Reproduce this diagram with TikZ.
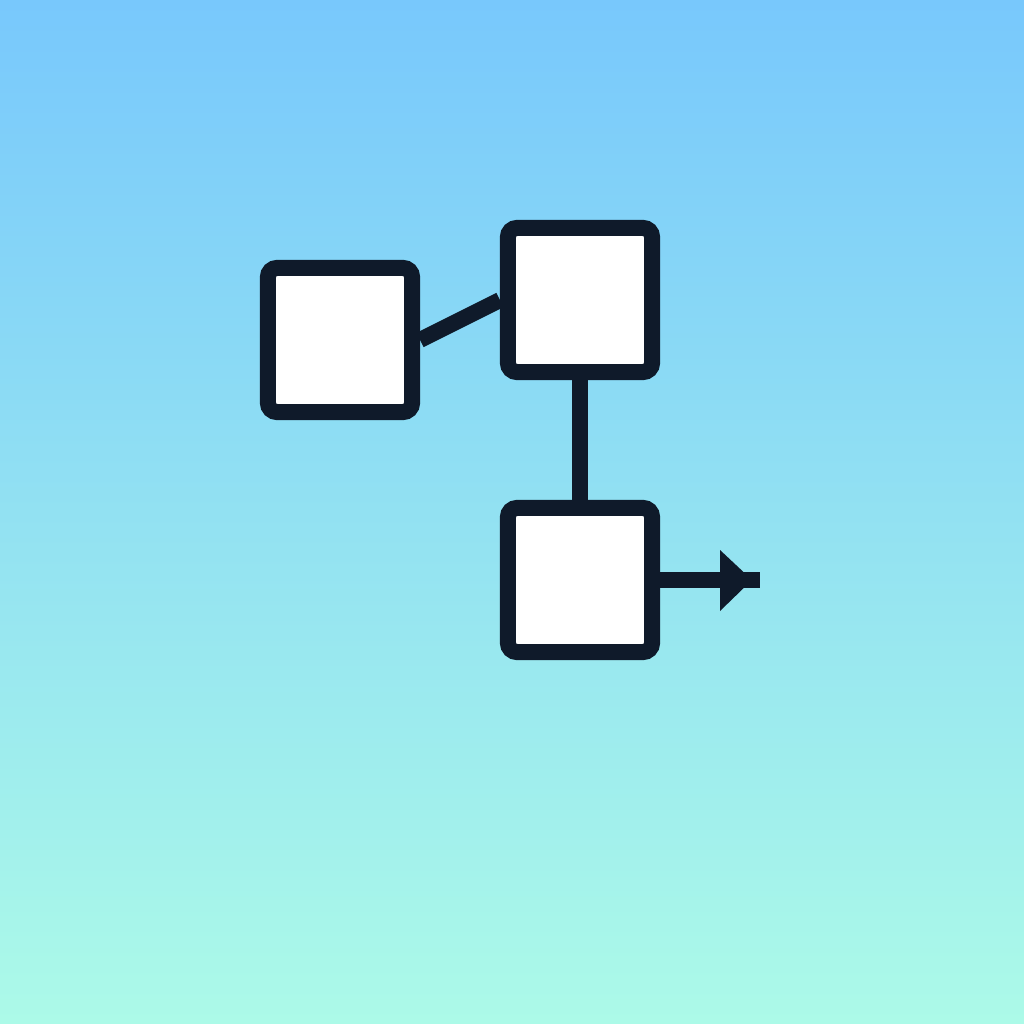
\documentclass[tikz,border=0pt]{standalone}
\definecolor{bgtop}{RGB}{120,200,252}
\definecolor{bgbot}{RGB}{172,250,232}
\definecolor{ink}{RGB}{15,26,42}
\begin{document}
\begin{tikzpicture}[x=0.01cm,y=-0.01cm,
  blockbox/.style={draw=ink,fill=white,line width=0.16cm,minimum size=1.44cm,inner sep=0pt,rounded corners=0.09cm},
  link/.style={draw=ink,line width=0.16cm}]
\shade[top color=bgtop,bottom color=bgbot] (0,0) rectangle (1024,1024);
\useasboundingbox (0,0) rectangle (1024,1024);
\node[blockbox] (b1) at (340,340) {};
\node[blockbox] (b2) at (580,300) {};
\node[blockbox] (b3) at (580,580) {};
\coordinate (end) at (760,580);
\draw[link] (b1.east) -- (b2.west);
\draw[link] (b2.south) -- (b3.north);
\draw[link] (b3.east) -- (end);
\fill[ink] (720,550) -- (752,580) -- (720,611) -- cycle;
\end{tikzpicture}
\end{document}
